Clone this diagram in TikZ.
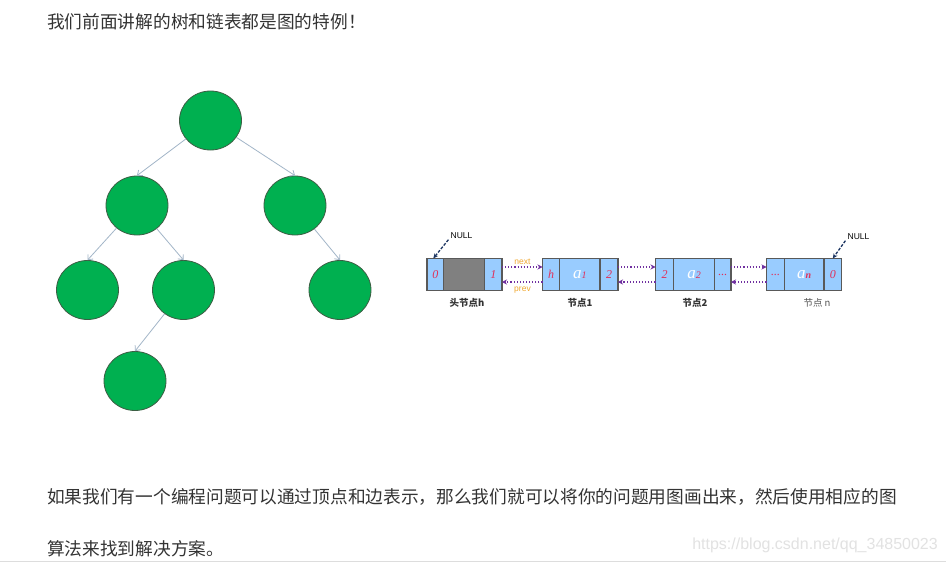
\documentclass[tikz,border=0pt]{standalone}
\usepackage{fontspec}
\setmainfont{Liberation Sans}
\newfontfamily\cjk{Noto Sans CJK SC}
\newfontfamily\serifit{Liberation Serif}
\usetikzlibrary{shapes.geometric,arrows.meta}
\definecolor{txt}{HTML}{333333}
\definecolor{treegreen}{HTML}{00B050}
\definecolor{treeborder}{HTML}{3C5E44}
\definecolor{edgecol}{HTML}{A3B6C8}
\definecolor{boxgray}{HTML}{595959}
\definecolor{cellblue}{HTML}{99CCFF}
\definecolor{midgray}{HTML}{808080}
\definecolor{redtxt}{HTML}{E0305A}
\definecolor{purplearr}{HTML}{7030A0}
\definecolor{orangetxt}{HTML}{F0A830}
\definecolor{navy}{HTML}{1F3864}
\definecolor{wm}{HTML}{E2E2E2}
\definecolor{rule}{HTML}{DDDDDD}
\tikzset{
  tnode/.style={ellipse, draw=treeborder, line width=0.8pt, fill=treegreen, minimum width=62, minimum height=59, inner sep=0},
  tedge/.style={draw=edgecol, line width=0.8pt, -{Straight Barb[length=4pt,width=7pt]}},
  cell/.style={draw=boxgray, line width=1.8pt, fill=cellblue, minimum height=32, inner sep=0, outer sep=0, anchor=west},
  smallcell/.style={cell, minimum width=17.5},
  bigcell/.style={cell, minimum width=40},
  celltxt/.style={font=\serifit\itshape\fontsize{12}{12}\selectfont, text=redtxt},
  linkarr/.style={purplearr, line width=1.1pt, dotted, -{Stealth[length=5pt,width=5pt]}},
  nullarr/.style={navy, line width=1.3pt, dashed, dash pattern=on 3pt off 1.5pt, -{Stealth[length=5pt,width=4.5pt]}},
  lbl/.style={font=\fontsize{8.5}{8.5}\selectfont, text=orangetxt},
  nodelbl/.style={font=\cjk\fontsize{9.5}{9.5}\selectfont, text=txt},
  para/.style={font=\cjk\fontsize{17.7}{17.7}\selectfont, text=txt, anchor=west, inner sep=0}
}
\newcommand{\aval}[1]{{\color{white}\fontsize{17}{17}\selectfont a}{\fontsize{10}{10}\selectfont\color{redtxt}#1}}
\begin{document}
\begin{tikzpicture}[x=1pt,y=-1pt]
\useasboundingbox[fill=white] (0,0) rectangle (946,562);

% text
\node[para] (t1) at (47,22) {我们前面讲解的树和链表都是图的特例！};
\node[para] (t2) at (47,497) {如果我们有一个编程问题可以通过顶点和边表示，那么我们就可以将你的问题用图画出来，然后使用相应的图};
\node[para] (t3) at (47,549) {算法来找到解决方案。};
\node[anchor=east, inner sep=0, font=\fontsize{16}{16}\selectfont, text=wm] (wmk) at (938,545) {https://blog.csdn.net/qq\_34850023};
\draw[rule, line width=1pt] (0,561) -- (946,561);

% tree
\node[tnode] (r) at (210.5,120.5) {};
\node[tnode] (l) at (137,205.5) {};
\node[tnode] (rr) at (295,205.5) {};
\node[tnode] (ll) at (87.5,290) {};
\node[tnode] (lr) at (183.5,290) {};
\node[tnode] (rc) at (340,290) {};
\node[tnode] (lrl) at (135,381) {};
\draw[tedge] (r) -- (l.north);
\draw[tedge] (r) -- (rr.north);
\draw[tedge] (l) -- (ll.north);
\draw[tedge] (l) -- (lr.north);
\draw[tedge] (rr) -- (rc.north);
\draw[tedge] (lr) -- (lrl.north);

% linked list: head
\node[smallcell, minimum width=16.5] (h0) at (427,274.5) {};
\node[cell, minimum width=41, fill=midgray] (hm) at (h0.east) {};
\node[smallcell] (h1) at (hm.east) {};
\node[celltxt] at (h0) {0};
\node[celltxt] at (h1) {1};
% node 1
\node[smallcell, minimum width=17] (a0) at (542.5,274.5) {};
\node[bigcell, minimum width=40.5] (am) at (a0.east) {};
\node[smallcell, minimum width=18] (a1) at (am.east) {};
\node[celltxt] at (a0) {h};
\node[celltxt] at (am) {\aval{1}};
\node[celltxt] at (a1) {2};
% node 2
\node[smallcell, minimum width=18] (b0) at (655.5,274.5) {};
\node[bigcell, minimum width=41] (bm) at (b0.east) {};
\node[smallcell, minimum width=16.5] (b1) at (bm.east) {};
\node[celltxt] at (b0) {2};
\node[celltxt] at (bm) {\aval{2}};
\node[celltxt] at (b1) {...};
% node n
\node[smallcell, minimum width=18] (c0) at (766.5,274.5) {};
\node[bigcell, minimum width=39.5] (cm) at (c0.east) {};
\node[smallcell, minimum width=17.5] (c1) at (cm.east) {};
\node[celltxt] at (c0) {...};
\node[celltxt] at (cm) {\aval{\textbf{n}}};
\node[celltxt] at (c1) {0};

% links
\draw[linkarr] ([yshift=7.5]h1.east) -- ([yshift=7.5]a0.west);
\draw[linkarr] ([yshift=-7.5]a0.west) -- ([yshift=-7.5]h1.east);
\draw[linkarr] ([yshift=7.5]a1.east) -- ([yshift=7.5]b0.west);
\draw[linkarr] ([yshift=-7.5]b0.west) -- ([yshift=-7.5]a1.east);
\draw[linkarr] ([yshift=7.5]b1.east) -- ([yshift=7.5]c0.west);
\draw[linkarr] ([yshift=-7.5]c0.west) -- ([yshift=-7.5]b1.east);
\node[lbl] (nx) at (522.5,262) {next};
\node[lbl] (pv) at (522.5,290) {prev};

% NULL pointers
\node[font=\fontsize{8.5}{8.5}\selectfont, inner sep=0] (null1) at (461.5,235.5) {NULL};
\node[font=\fontsize{8.5}{8.5}\selectfont, inner sep=0] (null2) at (858.5,236.5) {NULL};
\draw[nullarr] ([xshift=-2,yshift=-1]null1.south west) -- ([xshift=-2]h0.north);
\draw[nullarr] ([xshift=-2,yshift=-1]null2.south west) -- (c1.north);

% node labels
\node[nodelbl, font=\cjk\bfseries\fontsize{9.5}{9.5}\selectfont] (lh) at (467,303) {头节点h};
\node[nodelbl, font=\cjk\bfseries\fontsize{9.5}{9.5}\selectfont] (l1) at (580,303) {节点1};
\node[nodelbl, font=\cjk\bfseries\fontsize{9.5}{9.5}\selectfont] (l2) at (695,303) {节点2};
\node[nodelbl, text=txt!85] (ln) at (817,303) {节点 n};
\end{tikzpicture}
\end{document}
